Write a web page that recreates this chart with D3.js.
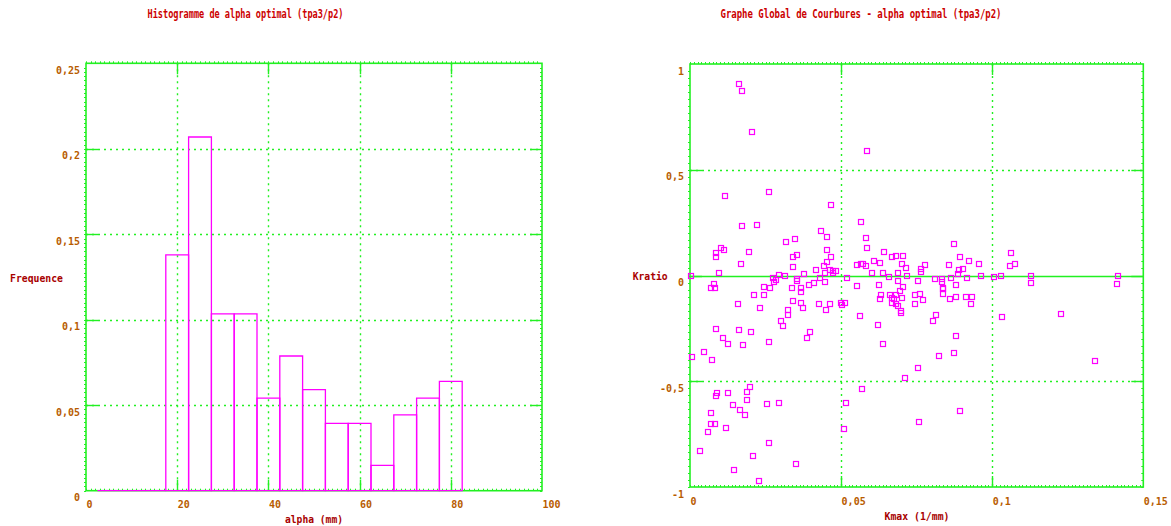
<!DOCTYPE html>
<html>
<head>
<meta charset="utf-8">
<script src="https://cdn.jsdelivr.net/npm/d3@7"></script>
<style>
  html, body { margin: 0; padding: 0; background: #ffffff; }
  svg { display: block; }
</style>
</head>
<body>
<svg id="chart" width="1171" height="526"></svg>
<script>
// ---------------- DATA ----------------
// Histogram: bin centres of alpha (mm), bin width 5, and frequencies
const alphaBins = [5, 10, 15, 20, 25, 30, 35, 40, 45, 50, 55, 60, 65, 70, 75, 80];
const alphaFreq = [0, 0, 0, 0.1379, 0.2069, 0.1034, 0.1034, 0.0542, 0.0788, 0.0591, 0.0394, 0.0394, 0.0148, 0.0443, 0.0542, 0.0640];
const binWidth = 5;

// Scatter: Kmax (1/mm) and Kratio
const kmax = [
 0.0162,0.0173,0.0205,0.0587,0.0117,0.0260,0.0468,0.0173,0.0221,0.0565,
 0.0435,0.0454,0.0581,0.0319,0.0348,0.0587,0.0104,0.0112,0.0087,0.0087,
 0.0195,0.0454,0.0643,0.0341,0.0354,0.0468,0.0454,0.0170,0.0341,0.0443,
 0.0418,0.0552,0.0565,0.0572,0.0581,0.0610,0.0630,0.0668,0.0682,0.0097,
 0.0003,0.0296,0.0315,0.0376,0.0464,0.0474,0.0484,0.0474,0.0448,0.0603,
 0.0640,0.0658,0.0688,0.0276,0.0286,0.0279,0.0354,0.0354,0.0431,0.0411,
 0.0395,0.0448,0.0520,0.0078,0.0068,0.0084,0.0246,0.0266,0.0339,0.0367,
 0.0552,0.0626,0.0688,0.0874,0.0704,0.0702,0.0715,0.0779,0.0765,0.0765,
 0.0717,0.0704,0.0755,0.0812,0.0834,0.0835,0.0837,0.0857,0.0894,0.0924,
 0.0957,0.0889,0.0902,0.0886,0.0864,0.0916,0.0880,0.0964,0.1007,0.1029,
 0.1061,0.1058,0.1074,0.1129,0.1129,0.1417,0.1412,0.0211,0.0244,0.0367,
 0.0160,0.0231,0.0342,0.0367,0.0374,0.0426,0.0464,0.0451,0.0325,0.0325,
 0.0302,0.0309,0.0087,0.0162,0.0202,0.0396,0.0386,0.0110,0.0260,0.0127,
 0.0175,0.0046,0.0007,0.0072,0.0499,0.0514,0.0504,0.0562,0.0630,0.0633,
 0.0623,0.0640,0.0568,0.0199,0.0189,0.0189,0.0090,0.0087,0.0127,0.0255,
 0.0294,0.0517,0.0143,0.0166,0.0182,0.0068,0.0068,0.0084,0.0059,0.0120,
 0.0511,0.0262,0.0033,0.0207,0.0351,0.0147,0.0227,0.0695,0.0682,0.0662,
 0.0668,0.0675,0.0668,0.0682,0.0687,0.0698,0.0698,0.0702,0.0744,0.0762,
 0.0772,0.0744,0.0838,0.0838,0.0860,0.0880,0.0914,0.0934,0.0931,0.0814,
 0.0805,0.0879,0.0825,0.0874,0.0755,0.0710,0.1032,0.1227,0.1341,0.0894,
 0.0759
];
const kratio = [
 0.904,0.871,0.677,0.589,0.376,0.395,0.335,0.234,0.239,0.252,
 0.209,0.182,0.177,0.158,0.173,0.131,0.131,0.122,0.105,0.089,
 0.110,0.119,0.113,0.086,0.096,0.086,0.064,0.053,0.039,0.043,
 0.025,0.048,0.053,0.053,0.043,0.067,0.058,0.086,0.091,0.010,
 -0.003,0.001,-0.004,0.006,0.025,0.020,0.020,0.010,0.010,0.010,
 0.010,-0.009,0.010,-0.013,-0.023,-0.032,-0.018,-0.027,-0.013,-0.037,
 -0.046,-0.032,-0.013,-0.042,-0.059,-0.059,-0.056,-0.061,-0.058,-0.061,
 -0.051,-0.046,-0.027,0.149,0.094,0.053,0.034,0.048,0.029,0.015,
 -0.004,-0.056,-0.026,-0.018,-0.018,-0.032,-0.061,0.048,0.086,0.067,
 0.053,0.025,0.029,0.007,-0.013,-0.013,-0.045,-0.004,-0.009,-0.004,
 0.108,0.043,0.053,-0.004,-0.037,-0.004,-0.042,-0.091,-0.091,-0.079,
 -0.136,-0.155,-0.122,-0.131,-0.155,-0.136,-0.136,-0.165,-0.165,-0.187,
 -0.217,-0.239,-0.253,-0.258,-0.267,-0.267,-0.294,-0.294,-0.316,-0.325,
 -0.330,-0.362,-0.387,-0.400,-0.131,-0.131,-0.141,-0.193,-0.111,-0.094,
 -0.234,-0.325,-0.538,-0.529,-0.549,-0.590,-0.557,-0.571,-0.557,-0.609,
 -0.604,-0.604,-0.614,-0.637,-0.661,-0.650,-0.701,-0.701,-0.739,-0.720,
 -0.727,-0.793,-0.831,-0.853,-0.891,-0.918,-0.973,-0.075,-0.091,-0.091,
 -0.106,-0.111,-0.130,-0.135,-0.143,-0.166,-0.176,-0.106,-0.094,-0.086,
 -0.117,-0.136,-0.064,-0.086,-0.113,-0.103,-0.100,-0.100,-0.136,-0.188,
 -0.217,-0.285,-0.382,-0.368,-0.439,-0.485,-0.198,-0.183,-0.406,-0.642,
 -0.693
];

const histXTicks = [0, 20, 40, 60, 80, 100];
const histYTicks = [0, 0.05, 0.1, 0.15, 0.2, 0.25];
const scatXTicks = [0, 0.05, 0.1, 0.15];
const scatYTicks = [-1, -0.5, 0, 0.5, 1];

const histTitle = "Histogramme de alpha optimal (tpa3/p2)";
const scatTitle = "Graphe Global de Courbures - alpha optimal (tpa3/p2)";

// ---------------- STYLE ----------------
const GREEN = "#22f022";
const MAGENTA = "#ff00ff";
const TICKCOL = "#b85c00";
const LABELCOL = "#a80000";
const TITLECOL = "#cc0000";
const FONT = "'DejaVu Sans Mono', monospace";

const svg = d3.select("#chart");
svg.append("rect").attr("width", 1171).attr("height", 526).attr("fill", "#fff");

const fmt = d => String(d).replace(".", ",");

function drawFrame(g, x, y, xTicks, yTicks, xMinor, yMinor, solidZero) {
  const [x0, x1] = x.range();
  const [y0, y1] = y.range(); // y0 bottom, y1 top
  // dotted grid
  xTicks.slice(1, -1).forEach(t => {
    g.append("line").attr("x1", Math.round(x(t)) + 0.5).attr("x2", Math.round(x(t)) + 0.5)
      .attr("y1", y1).attr("y2", y0)
      .attr("stroke", GREEN).attr("stroke-width", 1.4).attr("stroke-dasharray", "2,4");
  });
  yTicks.slice(1, -1).forEach(t => {
    const solid = solidZero && t === 0;
    g.append("line").attr("x1", x0).attr("x2", x1)
      .attr("y1", Math.round(y(t)) + 0.5).attr("y2", Math.round(y(t)) + 0.5)
      .attr("stroke", GREEN).attr("stroke-width", solid ? 1.5 : 1.4)
      .attr("stroke-dasharray", solid ? null : "2,4");
  });
  // minor ticks
  xMinor.forEach(t => {
    const px = Math.round(x(t)) + 0.5;
    g.append("line").attr("x1", px).attr("x2", px).attr("y1", y1 - 2).attr("y2", y1)
      .attr("stroke", GREEN).attr("stroke-width", 1);
    g.append("line").attr("x1", px).attr("x2", px).attr("y1", y0).attr("y2", y0 - 2)
      .attr("stroke", GREEN).attr("stroke-width", 1);
  });
  yMinor.forEach(t => {
    const py = Math.round(y(t)) + 0.5;
    g.append("line").attr("x1", x0 - 2).attr("x2", x0).attr("y1", py).attr("y2", py)
      .attr("stroke", GREEN).attr("stroke-width", 1);
    g.append("line").attr("x1", x1).attr("x2", x1 - 2).attr("y1", py).attr("y2", py)
      .attr("stroke", GREEN).attr("stroke-width", 1);
  });
  // major ticks (inward)
  xTicks.slice(1, -1).forEach(t => {
    const px = Math.round(x(t)) + 0.5;
    g.append("line").attr("x1", px).attr("x2", px).attr("y1", y1).attr("y2", y1 + 11)
      .attr("stroke", GREEN).attr("stroke-width", 1.4);
    g.append("line").attr("x1", px).attr("x2", px).attr("y1", y0).attr("y2", y0 - 11)
      .attr("stroke", GREEN).attr("stroke-width", 1.4);
  });
  yTicks.slice(1, -1).forEach(t => {
    const py = Math.round(y(t)) + 0.5;
    g.append("line").attr("x1", x0).attr("x2", x0 + 12).attr("y1", py).attr("y2", py)
      .attr("stroke", GREEN).attr("stroke-width", 1.4);
    g.append("line").attr("x1", x1).attr("x2", x1 - 12).attr("y1", py).attr("y2", py)
      .attr("stroke", GREEN).attr("stroke-width", 1.4);
  });
  // frame
  g.append("rect").attr("x", x0).attr("y", y1).attr("width", x1 - x0).attr("height", y0 - y1)
    .attr("fill", "none").attr("stroke", GREEN).attr("stroke-width", 1.6);
}

function drawAxes(g, x, y, xTicks, yTicks) {
  const [y0] = y.range();
  const [x0] = x.range();
  const ax = g.append("g").attr("transform", `translate(0,${y0})`)
    .call(d3.axisBottom(x).tickValues(xTicks).tickFormat(fmt).tickSize(0));
  ax.select(".domain").remove();
  ax.attr("font-family", FONT).attr("font-size", 10).attr("font-weight", "bold");
  ax.selectAll("text").attr("text-anchor", "start").attr("dy", null).attr("y", 17.5)
    .attr("x", 0).attr("fill", TICKCOL);

  const ay = g.append("g").attr("transform", `translate(${x0},0)`)
    .call(d3.axisLeft(y).tickValues(yTicks).tickFormat(fmt).tickSize(0));
  ay.select(".domain").remove();
  ay.attr("font-family", FONT).attr("font-size", 10).attr("font-weight", "bold");
  ay.selectAll("text").attr("text-anchor", "end").attr("dy", null).attr("y", 10)
    .attr("x", -6).attr("fill", TICKCOL);
}

function label(txt, x, y, anchor, color, len, size) {
  const t = svg.append("text").attr("x", x).attr("y", y).attr("text-anchor", anchor)
    .attr("font-family", FONT).attr("font-size", size || 10).attr("font-weight", "bold")
    .attr("fill", color).text(txt);
  if (len) t.attr("textLength", len).attr("lengthAdjust", "spacingAndGlyphs");
  return t;
}

// ---------------- HISTOGRAM ----------------
const xH = d3.scaleLinear().domain([0, 100]).range([86, 542]);
const yH = d3.scaleLinear().domain([0, 0.25]).range([490.7, 63.3]);
const gH = svg.append("g");
drawFrame(gH, xH, yH, histXTicks, histYTicks, d3.range(0, 100, 1), d3.range(0, 0.25, 0.0025), false);

gH.append("g").selectAll("path").data(alphaBins.map((c, i) => ({ c, f: alphaFreq[i] })))
  .join("path")
  .attr("d", d => {
    const a = xH(d.c - binWidth / 2), b = xH(d.c + binWidth / 2);
    const base = yH(0), top = yH(d.f);
    return `M${a},${base}V${top}H${b}V${base}Z`;
  })
  .attr("fill", "none").attr("stroke", MAGENTA).attr("stroke-width", 1.3);

drawAxes(gH, xH, yH, histXTicks, histYTicks);
label(histTitle, 245.5, 17.5, "middle", TITLECOL, 196, 12);
label("Frequence", 63, 281.5, "end", LABELCOL, 53);
label("alpha (mm)", 314, 523, "middle", LABELCOL, 58);

// ---------------- SCATTER ----------------
const xS = d3.scaleLinear().domain([0, 0.15]).range([690, 1143.3]);
const yS = d3.scaleLinear().domain([-1, 1]).range([487, 64]);
const gS = svg.append("g");
drawFrame(gS, xS, yS, scatXTicks, scatYTicks, d3.range(0, 0.15, 0.05 / 40), d3.range(-1, 1, 0.5 / 15), true);

gS.append("g").selectAll("rect").data(kmax.map((k, i) => ({ k, r: kratio[i] })))
  .join("rect")
  .attr("x", d => Math.round(xS(d.k)) - 2.5)
  .attr("y", d => Math.round(yS(d.r)) - 2.5)
  .attr("width", 5).attr("height", 5)
  .attr("fill", "none").attr("stroke", MAGENTA).attr("stroke-width", 1.2);

drawAxes(gS, xS, yS, scatXTicks, scatYTicks);
label(scatTitle, 861, 17.5, "middle", TITLECOL, 281, 12);
label("Kratio", 667.7, 280, "end", LABELCOL, 35);
label("Kmax (1/mm)", 917, 520, "middle", LABELCOL, 65);
</script>
</body>
</html>
